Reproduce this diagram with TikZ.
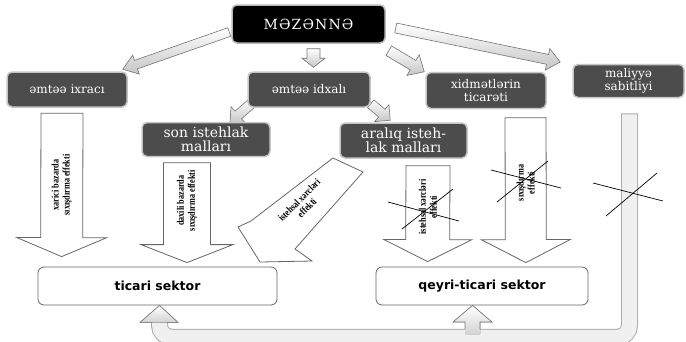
\documentclass[tikz,border=0pt]{standalone}
\usepackage{fontspec}
\setmainfont{DejaVu Serif}
\newfontfamily\sectorfont{DejaVu Sans}
\newfontfamily\effectfont[FakeStretch = 0.82]{Liberation Serif}
\usetikzlibrary{calc, backgrounds}

% block arrow: [style]{from}{to}{half shaft}{half head}{head length}
\newcommand{\blockarrow}[6][]{%
	\path[#1] let \p1 = ($(#3)-(#2)$), \n1 = {atan2(\y1,\x1)} in
		($(#2)+(\n1+90:#4pt)$) -- ($(#3)+(\n1+180:#6pt)+(\n1+90:#4pt)$)
		-- ($(#3)+(\n1+180:#6pt)+(\n1+90:#5pt)$) -- (#3)
		-- ($(#3)+(\n1+180:#6pt)+(\n1-90:#5pt)$)
		-- ($(#3)+(\n1+180:#6pt)+(\n1-90:#4pt)$)
		-- ($(#2)+(\n1-90:#4pt)$) -- cycle;%
}

\begin{document}
\begin{tikzpicture}[x = 1pt, y = -1pt,
		mainbox/.style = {draw = gray!55, line width = 1.5pt, fill = black, rounded corners = 5pt,
			text = white, font = \fontsize{14}{16}\selectfont\addfontfeature{LetterSpace = 8}},
		darkbox/.style = {draw = gray!45, line width = 1.5pt, fill = black!70, rounded corners = 5pt,
			text = white, align = center, inner sep = 1pt, font = \fontsize{12}{13}\selectfont},
		bigtext/.style = {font = \fontsize{14}{14.5}\selectfont},
		sectorbox/.style = {draw = black!60, line width = 0.8pt, fill = white, rounded corners = 6pt,
			font = \sectorfont\bfseries\fontsize{12.5}{14}\selectfont},
		bigarrow/.style = {draw = black!60, line width = 0.8pt, fill = white},
		smallarrow/.style = {draw = black!55, line width = 0.6pt, top color = white, bottom color = gray!45},
		effect/.style = {font = \effectfont\bfseries\fontsize{10}{11}\selectfont, align = center, inner sep = 0pt},
		crossline/.style = {black, line width = 0.7pt}]

	\useasboundingbox (0,0) rectangle (686,341);

	% Boxes
	\node[mainbox, minimum width = 153pt, minimum height = 38pt] (mz) at (308.5,24) {MƏZƏNNƏ};
	\node[darkbox, minimum width = 120pt, minimum height = 35pt] (ixr) at (67,89.5) {əmtəə ixracı};
	\node[darkbox, minimum width = 122pt, minimum height = 35pt] (idx) at (309,89.5) {əmtəə idxalı};
	\node[darkbox, minimum width = 120pt, minimum height = 36pt] (xid) at (486,90.5) {xidmətlərin\\ticarəti};
	\node[darkbox, minimum width = 111pt, minimum height = 33pt] (mal) at (628.5,81) {maliyyə\\sabitliyi};
	\node[darkbox, bigtext, minimum width = 128pt, minimum height = 34pt] (son) at (206,139.5) {son istehlak\\malları};
	\node[darkbox, bigtext, minimum width = 127pt, minimum height = 35pt] (ara) at (403.5,140.5) {aralıq isteh-\\lak malları};
	\node[sectorbox, minimum width = 239pt, minimum height = 38pt] (tic) at (157.5,286) {ticari sektor};
	\node[sectorbox, minimum width = 212pt, minimum height = 38pt] (qey) at (482,286) {qeyri-ticari sektor};

	% Ends of the arrows
	\coordinate (m1) at ($(mz.west)+(-2,8)$);
	\coordinate (i1) at ($(ixr.north east)+(-5,-2)$);
	\coordinate (m2) at ($(mz.south)+(5,5)$);
	\coordinate (i2) at ($(idx.north)+(4.5,-4)$);
	\coordinate (m3) at ($(mz.south east)+(3,7)$);
	\coordinate (x3) at ($(xid.north west)+(-1,0)$);
	\coordinate (m4) at ($(mz.east)+(10,4)$);
	\coordinate (l4) at ($(mal.west)+(-12,-19)$);
	\coordinate (d1) at ($(idx.south west)+(5,-5)$);
	\coordinate (s1) at ($(son.north)+(24,0.5)$);
	\coordinate (d2) at ($(idx.south east)+(0,-4)$);
	\coordinate (a2) at ($(ara.north west)+(51,-2)$);
	\coordinate (e1s) at ($(ixr.south)+(-5,5.5)$);
	\coordinate (e1t) at ($(tic.north west)+(24,-10)$);
	\coordinate (e2s) at ($(son.south)+(-19,5.5)$);
	\coordinate (e2t) at ($(tic.north)+(29.5,-4)$);
	\coordinate (e3s) at ($(ara.south)+(24.5,7)$);
	\coordinate (e3t) at ($(qey.north west)+(52,-5)$);
	\coordinate (e4s) at ($(xid.south)+(39.5,8.5)$);
	\coordinate (e4t) at ($(qey.north east)+(-62.5,-4)$);
	\coordinate (b1) at ($(mal.south)+(1,16)$);
	\coordinate (b2) at ($(tic.south)+(2,17)$);

	\begin{scope}[on background layer]
		% Small arrows from the top
		\blockarrow[smallarrow]{m1}{i1}{4.5}{10}{14}
		\blockarrow[smallarrow]{m2}{i2}{6.5}{11.5}{9}
		\blockarrow[smallarrow]{m3}{x3}{5.5}{12}{13}
		\blockarrow[smallarrow]{m4}{l4}{5}{11}{13}
		\blockarrow[smallarrow]{d1}{s1}{5}{11}{11}
		\blockarrow[smallarrow]{d2}{a2}{5}{11}{11}

		% Feedback bar from maliyyə sabitliyi
		\draw[line width = 17pt, gray!65, rounded corners = 12pt] ($(b1)+(0,-1)$) -- ++(0,224) -| (b2);
		\draw[line width = 15pt, gray!12, rounded corners = 12pt] (b1) -- ++(0,223) -| (b2);
	\end{scope}

	% Big arrows into the sectors
	\blockarrow[bigarrow]{e1s}{e1t}{21}{45}{19}
	\blockarrow[bigarrow]{e2s}{e2t}{23.5}{46}{18}
	\blockarrow[bigarrow]{e3s}{e3t}{22}{44}{22}
	\blockarrow[bigarrow]{e4s}{e4t}{20.5}{44.5}{23}
	\draw[bigarrow] (333,158) -- (363,172) -- (295,249) -- (312,261) -- (260,262) -- (238,227) -- (251,221) -- cycle;

	\node[effect, rotate = 90] (t1) at ($(e1s)!0.5!(e1t)$) {xarici bazarda\\sıxışdırma effekti};
	\node[effect, rotate = 90] (t2) at ($(e2s)!0.38!(e2t)$) {daxili bazarda\\sıxışdırma effekti};
	\node[effect, rotate = 90] (t3) at ($(e3s)!0.43!(e3t)$) {istehsal xərcləri\\effekti};
	\node[effect, rotate = 90] (t4) at ($(e4s)!0.45!(e4t)$) {sıxışdırma\\effekti};
	\node[effect, rotate = 45] (t5) at (303,204) {istehsal xərcləri\\effekti};

	% Up arrows into the sectors
	\fill[top color = white, bottom color = gray!35] ($(tic.south)+(-17.5,17)$) -- ($(tic.south)+(2,0)$) -- ($(tic.south)+(20.5,17)$) -- cycle;
	\draw[black!55, line width = 0.6pt] ($(tic.south)+(-5.5,17)$) -- ($(tic.south)+(-17.5,17)$) -- ($(tic.south)+(2,0)$)
		-- ($(tic.south)+(20.5,17)$) -- ($(tic.south)+(9.5,17)$);
	\fill[top color = white, bottom color = gray!35] (465,334) -- (465,322) -- (453,322) -- ($(qey.south)+(-9.5,0)$)
		-- (492,322) -- (480,322) -- (480,334) -- cycle;
	\draw[black!55, line width = 0.6pt] (465,329) -- (465,322) -- (453,322) -- ($(qey.south)+(-9.5,0)$)
		-- (492,322) -- (480,322) -- (480,329);

	% Crossed out effects
	\draw[crossline] (388,202) -- (459,221);
	\draw[crossline] (402,229) -- (453,189);
	\draw[crossline] (491,170) -- (561,188);
	\draw[crossline] (497,202) -- (548,161);
	\draw[crossline] (593,183) -- (663,201);
	\draw[crossline] (606,216) -- (657,173);

\end{tikzpicture}
\end{document}
